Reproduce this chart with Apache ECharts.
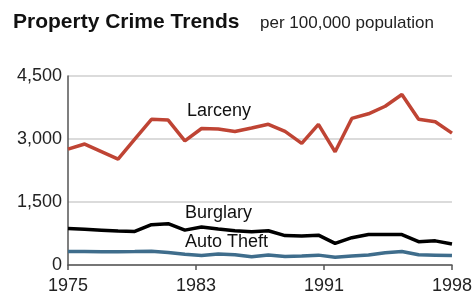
<!DOCTYPE html>
<html>
<head>
<meta charset="utf-8">
<script src="https://cdn.jsdelivr.net/npm/echarts@6/dist/echarts.min.js"></script>
<style>
  html, body { margin: 0; padding: 0; background: #fff; }
  #main { width: 475px; height: 295px; }
</style>
</head>
<body>
<div id="main"></div>
<script>
// data (per 100,000 population)
const years = [1975, 1976, 1977, 1978, 1979, 1980, 1981, 1982, 1983, 1984, 1985, 1986,
               1987, 1988, 1989, 1990, 1991, 1992, 1993, 1994, 1995, 1996, 1997, 1998]
const larceny = [2760, 2880, 2700, 2520, 2995, 3470, 3450, 2955, 3250, 3240, 3180, 3260,
                 3350, 3180, 2895, 3350, 2695, 3490, 3600, 3780, 4060, 3470, 3410, 3140]
const burglary = [870, 850, 830, 810, 800, 960, 985, 830, 905, 855, 815, 790,
                  815, 700, 690, 710, 515, 650, 725, 725, 725, 555, 575, 500]
const autoTheft = [320, 320, 315, 315, 320, 330, 300, 255, 225, 262, 245, 195,
                   240, 205, 215, 235, 185, 215, 240, 290, 320, 245, 235, 225]
const tickLabels = ['1975', '1983', '1991', '1998']

const font = '"Liberation Sans", Arial, sans-serif'
const first = years[0]
const last = years[years.length - 1]
// the ticks sit at even thirds of the span
const step = (last - first) / (tickLabels.length - 1)
const tickPos = tickLabels.map((t, i) => first + i * step)

const chart = echarts.init(document.getElementById('main'))

// 把年份和数值配对
const pairs = arr => years.map((y, i) => [y, arr[i]])

const option = {
    animation: false,
    title: [
        {
            text: 'Property Crime Trends',
            left: 13, top: 12, padding: 0,
            textStyle: { fontFamily: font, fontSize: 21, fontWeight: 'bold', color: '#111' }
        },
        {
            text: 'per 100,000 population',
            left: 260, top: 15, padding: 0,
            textStyle: { fontFamily: font, fontSize: 17, fontWeight: 'normal', color: '#222' }
        }
    ],
    grid: { left: 68, right: 22, top: 76, bottom: 28 },
    xAxis: {
        type: 'value',
        min: first,
        max: last,
        axisLine: { show: true, lineStyle: { color: '#555', width: 1.5 } },
        axisTick: { show: true, length: 5, customValues: tickPos, lineStyle: { color: '#555', width: 1.5 } },
        axisLabel: {
            customValues: tickPos,
            margin: 12,
            fontFamily: font, fontSize: 18, color: '#222',
            formatter: v => tickLabels[Math.round((v - first) / step)]
        },
        splitLine: { show: false }
    },
    yAxis: {
        type: 'value',
        min: 0,
        max: 4500,
        interval: 1500,
        axisLine: { show: true, lineStyle: { color: '#555', width: 1.5 } },
        axisTick: { show: false },
        axisLabel: {
            margin: 6,
            fontFamily: font, fontSize: 18, color: '#222',
            formatter: v => v.toLocaleString('en-US')
        },
        splitLine: { show: true, lineStyle: { color: '#cfcfcf', width: 1.5 } }
    },
    series: [
        {
            name: 'Larceny', type: 'line', data: pairs(larceny),
            symbol: 'none', lineStyle: { color: '#bf4434', width: 3.5 }
        },
        {
            name: 'Burglary', type: 'line', data: pairs(burglary),
            symbol: 'none', lineStyle: { color: '#000', width: 3.5 }
        },
        {
            name: 'Auto Theft', type: 'line', data: pairs(autoTheft),
            symbol: 'none', lineStyle: { color: '#3f6d8c', width: 3.5 }
        }
    ],
    // 系列名称标签
    graphic: [
        { type: 'text', left: 187, top: 102, style: { text: 'Larceny', font: '18px ' + font, fill: '#111' } },
        { type: 'text', left: 185, top: 204, style: { text: 'Burglary', font: '18px ' + font, fill: '#111' } },
        { type: 'text', left: 185, top: 233, style: { text: 'Auto Theft', font: '18px ' + font, fill: '#111' } }
    ]
}

chart.setOption(option)
</script>
</body>
</html>
